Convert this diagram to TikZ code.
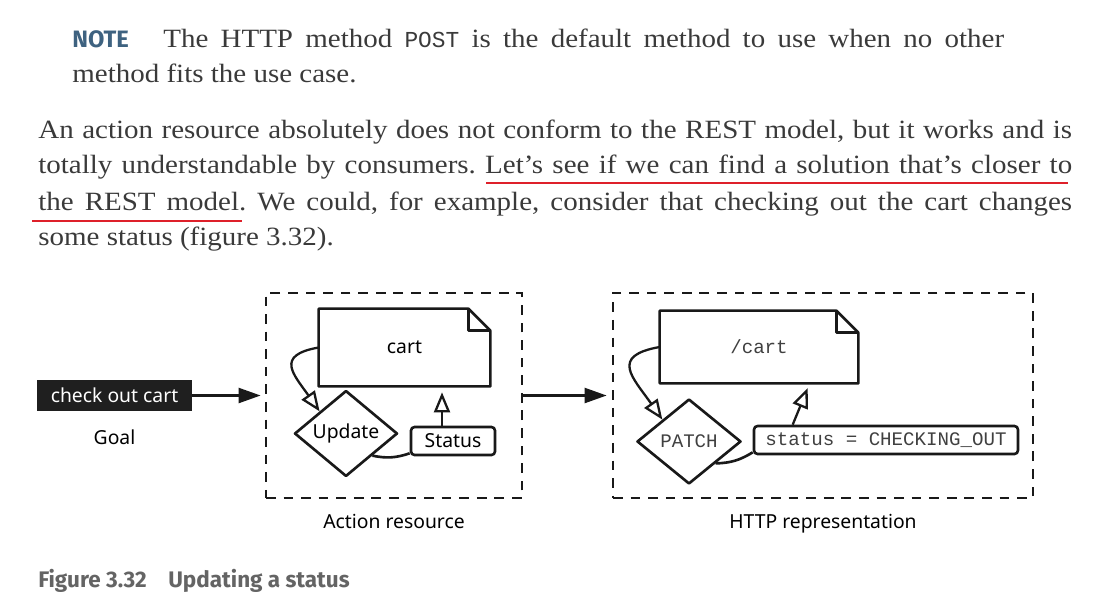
\documentclass[tikz,border=0pt]{standalone}
\usepackage{fontspec}
\setmainfont[FakeStretch=1.1]{Liberation Serif}
\setmonofont{Liberation Mono}
\newfontfamily\sketchfont{Noto Sans}
\newfontfamily\labelfont{Fira Sans}
\usepackage{tikz}
\usetikzlibrary{positioning, shapes.geometric, arrows.meta}
\usepackage{xcolor}
\frenchspacing

\definecolor{bodygray}{RGB}{58,58,58}
\definecolor{notecol}{RGB}{62,98,128}
\definecolor{capgray}{RGB}{100,100,100}
\definecolor{markred}{RGB}{222,32,42}

\tikzset{
  bodytext/.style={anchor=base west, inner sep=0, text=bodygray, font=\fontsize{15}{18}\selectfont},
  notelabel/.style={anchor=base west, inner sep=0, text=notecol, font=\labelfont\bfseries\fontsize{13.5}{16}\selectfont},
  captiontext/.style={anchor=base west, inner sep=0, text=capgray, font=\labelfont\bfseries\fontsize{12.8}{15}\selectfont},
  sketch/.style={draw=black!90, line width=1.5pt, line join=round},
  sketchlabel/.style={font=\sketchfont\fontsize{11}{13}\selectfont},
  monolabel/.style={text=black!75, font=\ttfamily\fontsize{10.9}{13}\selectfont},
  docbox/.style={inner sep=0},
  decision/.style={diamond, sketch, inner sep=0},
  tagbox/.style={rectangle, sketch, rounded corners=2pt, inner sep=0},
  zonebox/.style={draw=black!90, line width=1.6pt, dash pattern=on 5.5pt off 4.5pt, inner sep=0},
  goalbox/.style={fill=black!88, text=white, inner sep=0, sketchlabel},
  flow/.style={draw=black!90, line width=1.3pt, -{Triangle[length=0.44cm, width=0.3cm]}},
  feedback/.style={draw=black!90, line width=1.3pt, -{Triangle[open, length=0.4cm, width=0.32cm]}},
  underline/.style={draw=markred, line width=1.2pt}
}

% page of a document with a folded top right corner
\newcommand\drawdoc[1]{%
  \draw[sketch] (#1.north west) -- ([xshift=-0.44cm]#1.north east) -- ([yshift=-0.44cm]#1.north east) -- (#1.south east) -- (#1.south west) -- cycle;
  \draw[sketch] ([xshift=-0.44cm]#1.north east) |- ([yshift=-0.44cm]#1.north east);}

\begin{document}
\begin{tikzpicture}[x=0.02cm, y=-0.02cm]
\useasboundingbox[fill=white] (0,0) rectangle (1103,613);

% text above the figure
\node[notelabel] (notetag) at (72,47) {NOTE};
\node[bodytext] (noteline1) at (163,47) {\makebox[16.82cm][s]{The HTTP method {\fontsize{13}{15}\ttfamily POST} is the default method to use when no other}};
\node[bodytext] (noteline2) at (72,82) {method fits the use case.};
\node[bodytext] (para1) at (38,138) {\makebox[20.68cm][s]{An action resource absolutely does not conform to the REST model, but it works and is}};
\node[bodytext] (para2) at (38,173) {\makebox[20.68cm][s]{totally understandable by consumers. Let’s see if we can find a solution that’s closer to}};
\node[bodytext] (para3) at (38,210) {\makebox[20.68cm][s]{the REST model. We could, for example, consider that checking out the cart changes}};
\node[bodytext] (para4) at (38,245) {some status (figure 3.32).};
\draw[underline] (486,183) -- (1068,183);
\draw[underline] (32,221) -- (242,221);

% goal
\node[goalbox, minimum width=3.1cm, minimum height=0.62cm] (goal) at (114.5,395.5) {check out cart};
\node[sketchlabel, below=0.25cm of goal] (goallabel) {Goal};

% action resource
\node[zonebox, minimum width=5.12cm, minimum height=4.1cm] (actzone) at (394,395.5) {};
\node[sketchlabel, below=0.17cm of actzone] (actlabel) {Action resource};
\node[docbox, sketchlabel, minimum width=3.42cm, minimum height=1.54cm] (cart) at (404.5,347.5) {cart};
\drawdoc{cart}
\node[decision, sketchlabel, minimum width=2.06cm, minimum height=1.46cm] (update) at (346,433.5) {Update};
\node[tagbox, sketchlabel, minimum width=1.68cm, minimum height=0.56cm] (status) at (453,441) {Status};
\coordinate (statustail) at ([xshift=-0.22cm]status.north);
\draw[feedback] (cart.west) to[out=190, in=125, looseness=1.8] (update.north west);
\draw[sketch] (update.south east) to[bend right=15] ([yshift=0.06cm]status.south west);
\draw[feedback, shorten >=0.12cm] (statustail) -- (statustail |- cart.south);

% HTTP representation
\node[zonebox, minimum width=8.4cm, minimum height=4.1cm] (httpzone) at (823,395.5) {};
\node[sketchlabel, below=0.17cm of httpzone] (httplabel) {HTTP representation};
\node[docbox, monolabel, minimum width=3.96cm, minimum height=1.44cm] (rescart) at (759,347) {/cart};
\drawdoc{rescart}
\node[decision, monolabel, minimum width=2.08cm, minimum height=1.7cm] (patch) at (689,441.5) {PATCH};
\node[tagbox, monolabel, minimum width=5.28cm, minimum height=0.56cm] (statusfield) at (886,440) {status = CHECKING\_OUT};
\coordinate (fieldtail) at ([xshift=0.8cm]statusfield.north west);
\coordinate (fieldtip) at ([xshift=3cm]rescart.south west);
\draw[feedback] (rescart.west) to[out=190, in=125, looseness=1.8] (patch.north west);
\draw[sketch] (patch.south east) to[bend right=15] ([yshift=0.06cm]statusfield.south west);
\draw[feedback, shorten >=0.1cm] (fieldtail) -- (fieldtip);

% flow between the parts
\draw[flow, shorten >=0.08cm] (goal.east) -- (actzone.west);
\draw[flow, shorten >=0.1cm] (actzone.east) -- (httpzone.west);

% caption
\node[captiontext] (figno) at (38,587) {Figure 3.32};
\node[captiontext] (figtitle) at (168,587) {Updating a status};
\end{tikzpicture}
\end{document}
